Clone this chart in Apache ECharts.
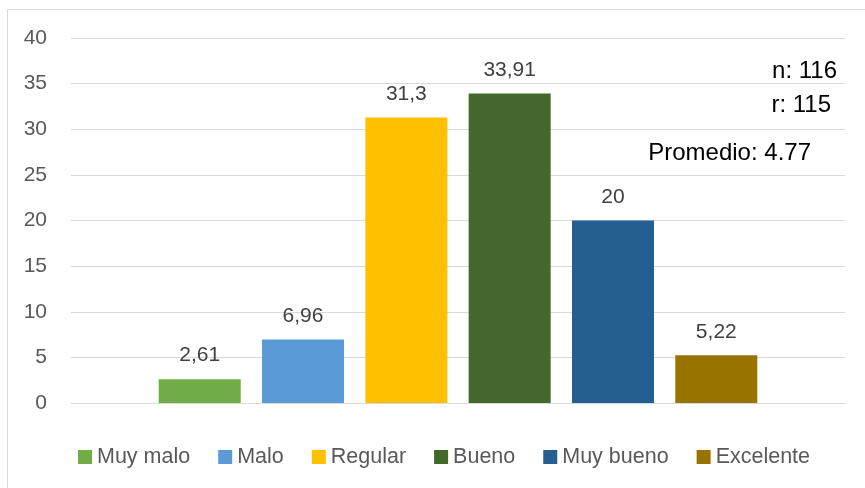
<!DOCTYPE html>
<html>
<head>
<meta charset="utf-8">
<script src="https://cdn.jsdelivr.net/npm/echarts@6/dist/echarts.min.js"></script>
<style>
  html, body { margin: 0; padding: 0; background: #fff; }
  #chart { width: 865px; height: 488px; }
</style>
</head>
<body>
<div id="chart"></div>
<script>
// datos
const categories = [''];
const seriesNames = ['Muy malo', 'Malo', 'Regular', 'Bueno', 'Muy bueno', 'Excelente'];
const values = [2.61, 6.96, 31.3, 33.91, 20, 5.22];
const yTicks = [0, 40, 5]; // min, max, intervalo
const nTotal = 116;
const rTotal = 115;
const promedio = '4.77';

const palette = ['#70AD47', '#5B9BD5', '#FFC000', '#43682B', '#255E91', '#997300'];
const fontFamily = '"Liberation Sans", Arial, sans-serif';

const chart = echarts.init(document.getElementById('chart'));

const series = seriesNames.map((name, i) => ({
  name: name,
  type: 'bar',
  data: [values[i]],
  barWidth: 82,
  barGap: '26%',
  itemStyle: { color: palette[i] },
  label: {
    show: true,
    position: 'top',
    distance: 13,
    color: '#404040',
    fontSize: 21,
    fontFamily: fontFamily,
    // coma decimal como en el original
    formatter: (p) => String(p.value).replace('.', ',')
  }
}));

const option = {
  animation: false,
  backgroundColor: '#fff',
  textStyle: { fontFamily: fontFamily },
  grid: {
    left: 71,
    right: 20,
    top: 38,
    bottom: 85,
    outerBoundsMode: 'none'
  },
  legend: {
    data: seriesNames,
    left: 73,
    top: 441,
    icon: 'rect',
    itemWidth: 14,
    itemHeight: 14,
    itemGap: 28,
    textStyle: {
      color: '#595959',
      fontSize: 21.5,
      fontFamily: fontFamily
    }
  },
  xAxis: {
    type: 'category',
    data: categories,
    axisLine: { show: true, lineStyle: { color: '#D9D9D9', width: 1 } },
    axisTick: { show: false },
    axisLabel: { show: false }
  },
  yAxis: {
    type: 'value',
    min: yTicks[0],
    max: yTicks[1],
    interval: yTicks[2],
    axisLine: { show: false },
    axisTick: { show: false },
    axisLabel: {
      color: '#595959',
      fontSize: 21,
      margin: 24,
      fontFamily: fontFamily
    },
    splitLine: { lineStyle: { color: '#D9D9D9', width: 1 } }
  },
  graphic: [
    {
      type: 'rect',
      shape: { x: 7.5, y: 9.5, width: 900, height: 520 },
      style: { fill: 'none', stroke: '#D9D9D9', lineWidth: 1 },
      silent: true
    },
    {
      type: 'text',
      x: 837, y: 71,
      style: {
        text: 'n: ' + nTotal,
        align: 'right', verticalAlign: 'middle',
        fill: '#000', fontSize: 24, fontFamily: fontFamily
      }
    },
    {
      type: 'text',
      x: 831, y: 105,
      style: {
        text: 'r: ' + rTotal,
        align: 'right', verticalAlign: 'middle',
        fill: '#000', fontSize: 24, fontFamily: fontFamily
      }
    },
    {
      type: 'text',
      x: 811, y: 153,
      style: {
        text: 'Promedio: ' + promedio,
        align: 'right', verticalAlign: 'middle',
        fill: '#000', fontSize: 24, fontFamily: fontFamily
      }
    }
  ],
  series: series
};

chart.setOption(option);
</script>
</body>
</html>
